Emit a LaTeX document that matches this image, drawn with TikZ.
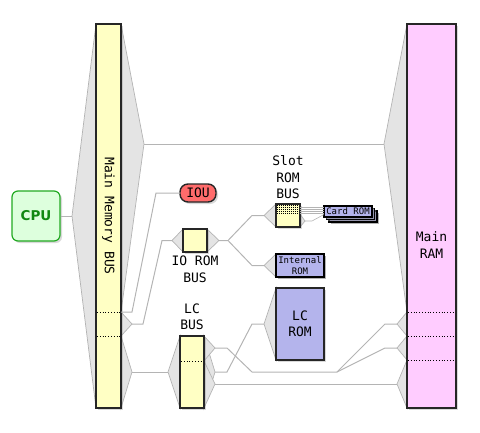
\documentclass[tikz,border=0pt]{standalone}
\usepackage{fontspec}
\setmonofont{DejaVu Sans Mono}
\setsansfont{DejaVu Sans}
\usetikzlibrary{positioning,calc,shadows}

\definecolor{busyellow}{HTML}{FFFFC4}
\definecolor{rampink}{HTML}{FFCCFF}
\definecolor{romblue}{HTML}{B4B4EC}
\definecolor{ioured}{HTML}{FF6B6B}
\definecolor{cpufill}{HTML}{DDFFDD}
\definecolor{cpugreen}{HTML}{22AA22}
\definecolor{cpudark}{HTML}{118811}
\definecolor{wiregray}{HTML}{B4B4B4}
\definecolor{fangray}{HTML}{E4E4E4}

\begin{document}
\begin{tikzpicture}[x=1pt, y=-1pt, node distance=4pt,
		wire/.style={draw=wiregray, line width=1pt},
		fan/.style={fill=fangray, draw=wiregray, line width=0.7pt},
		bus/.style={draw=black!85, fill=busyellow, line width=1.4pt, inner sep=0pt, outer sep=0pt,
			drop shadow={opacity=0.3, shadow xshift=2pt, shadow yshift=-2pt}},
		chip/.style={draw=black, fill=romblue, line width=1.6pt, inner sep=0pt, outer sep=0pt,
			drop shadow={opacity=0.6, shadow xshift=1.5pt, shadow yshift=-1.5pt}},
		lbl/.style={font=\fontsize{13}{16.5}\selectfont\ttfamily, align=center, inner sep=0pt},
		small/.style={font=\fontsize{9}{11}\selectfont\ttfamily, align=center},
		sep/.style={dotted, line width=0.8pt, black}]
	
		\useasboundingbox (0,0) rectangle (480,432);
		
		% fan tips
		\coordinate (cpuv) at (72,216);
		\coordinate (mram) at (144,144);
		\coordinate (ramv) at (384,144);
		\coordinate (miou) at (121,312);
		\coordinate (mio) at (132,324);
		\coordinate (mlc) at (132,372);
		\coordinate (iorin) at (172,240.5);
		\coordinate (iorout) at (219,240.5);
		\coordinate (slotin) at (264,215.5);
		\coordinate (slotlo) at (305,221);
		\coordinate (intin) at (264,265.5);
		\coordinate (lcin) at (168,372);
		\coordinate (lchi) at (215,348);
		\coordinate (lcall) at (215,372);
		\coordinate (lclo) at (215,384);
		\coordinate (lcromin) at (264,324);
		\coordinate (ramsplit) at (337,372);
		\coordinate (ram1) at (397,324);
		\coordinate (ram2) at (397,348);
		\coordinate (ram3) at (397,384);
		
		% fans
		\filldraw[fan] (cpuv) -- (96,24) -- (96,408) -- cycle;
		\filldraw[fan] (mram) -- (121,24) -- (121,312) -- cycle;
		\filldraw[fan] (ramv) -- (407,24) -- (407,312) -- cycle;
		\filldraw[fan] (mio) -- (121,312) -- (121,336) -- cycle;
		\filldraw[fan] (mlc) -- (121,336) -- (121,408) -- cycle;
		\filldraw[fan] (iorin) -- (183,229) -- (183,252) -- cycle;
		\filldraw[fan] (iorout) -- (207,229) -- (207,252) -- cycle;
		\filldraw[fan] (slotin) -- (276,204) -- (276,227) -- cycle;
		\filldraw[fan] (slotlo) -- (300,214) -- (300,227) -- cycle;
		\filldraw[fan] (intin) -- (276,254) -- (276,277) -- cycle;
		\filldraw[fan] (lcin) -- (180,336) -- (180,408) -- cycle;
		\filldraw[fan] (lcall) -- (204,336) -- (204,408) -- cycle;
		\filldraw[fan] (lchi) -- (204,336) -- (204,361) -- cycle;
		\filldraw[fan] (lclo) -- (204,361) -- (204,408) -- cycle;
		\filldraw[fan] (lcromin) -- (276,288) -- (276,360) -- cycle;
		\filldraw[fan] (ram1) -- (407,312) -- (407,336) -- cycle;
		\filldraw[fan] (ram2) -- (407,336) -- (407,360) -- cycle;
		\filldraw[fan] (ram3) -- (407,360) -- (407,408) -- cycle;
		
		% boxes
		\node[draw=cpugreen, fill=cpufill, line width=1.2pt, rounded corners=6pt, minimum width=48pt, minimum height=50pt,
			font=\sffamily\bfseries\fontsize{13.5}{16}\selectfont, text=cpudark,
			drop shadow={opacity=0.3, shadow xshift=2pt, shadow yshift=-2pt}] (cpu) at (36,216) {CPU};
		\node[bus, minimum width=25pt, minimum height=384pt] (mbus) at (108.5,216) {};
		\node[lbl, rotate=-90] (mbuslbl) at (mbus) {Main Memory BUS};
		\node[bus, fill=rampink, minimum width=49pt, minimum height=384pt] (ram) at (431.5,216) {};
		\node[lbl] (ramlbl) at (431.5,245) {Main\\RAM};
		\node[bus, line width=1.4pt, fill=ioured, rounded corners=8pt, minimum width=36pt, minimum height=18pt, lbl] (iou) at (198,193) {IOU};
		\node[bus, minimum width=24pt, minimum height=23pt] (iorom) at (195,240.5) {};
		\node[lbl, below=4pt of iorom] (iolbl) {IO ROM\\BUS};
		\node[bus, minimum width=24pt, minimum height=23pt] (slot) at (288,215.5) {};
		\node[lbl, above=5pt of slot] (slotlbl) {Slot\\ROM\\BUS};
		\node[chip, small, minimum width=48pt, minimum height=23pt] (introm) at (300,265.5) {Internal\\ROM};
		\node[bus, fill=romblue, lbl, minimum width=48pt, minimum height=72pt] (lcrom) at (300,324) {LC\\ROM};
		\node[bus, minimum width=24pt, minimum height=72pt] (lcbus) at (192,372) {};
		\node[lbl, above=6pt of lcbus] (lclbl) {LC\\BUS};
		\node[chip, minimum width=48pt, minimum height=11pt] (card3) at (353,216.5) {};
		\node[chip, minimum width=48pt, minimum height=11pt] (card2) at (350.5,214) {};
		\node[chip, small, minimum width=48pt, minimum height=11pt] (card) at (348,211.5) {Card ROM};
		
		% address boundaries
		\foreach \y in {312,336} \draw[sep] (97,\y) -- (120,\y);
		\foreach \y in {312,336,360} \draw[sep] (408,\y) -- (455,\y);
		\draw[sep] (181,361) -- (203,361);
		\foreach \y in {205.5,207.5,...,213.5}
			\draw[black, line width=0.7pt, dash pattern=on 0.7pt off 1.3pt] (277,\y) -- (299,\y);
		
		% wires
		\draw[wire] (cpu) -- (cpuv);
		\draw[wire] (mram) -- (ramv);
		\draw[wire] (miou) -- ++(11,0) -- ($(iou.west)+(-24,0)$) -- (iou);
		\draw[wire] (mio) -- ++(11,0) -- ($(iorin)+(-10,0)$) -- (iorin);
		\draw[wire] (iorout) -- ++(9,0) coordinate (iorsplit) -- ($(slotin)+(-12,0)$) -- (slotin);
		\draw[wire] (iorsplit) -- ($(intin)+(-12,0)$) -- (intin);
		\foreach \y in {207,209,211,213}
			\draw[wire, line width=0.6pt] (slot.east |- 0,\y) -- (card.west |- 0,\y);
		\draw[wire, line width=0.6pt] (slotlo) -- ++(7,0) -- ($(card.west)+(0,3)$);
		\draw[wire] (mlc) -- (lcin);
		\draw[wire] (lchi) -- ++(12,0) -- ++(25,24) -- (ramsplit);
		\draw[wire] (ramsplit) -- ($(ram1)+(-12,0)$) -- (ram1);
		\draw[wire] (ramsplit) -- ($(ram2)+(-12,0)$) -- (ram2);
		\draw[wire] (lcall) -- ++(12,0) -- ($(lcromin)+(-12,0)$) -- (lcromin);
		\draw[wire] (lclo) -- (ram3);
	\end{tikzpicture}
\end{document}
